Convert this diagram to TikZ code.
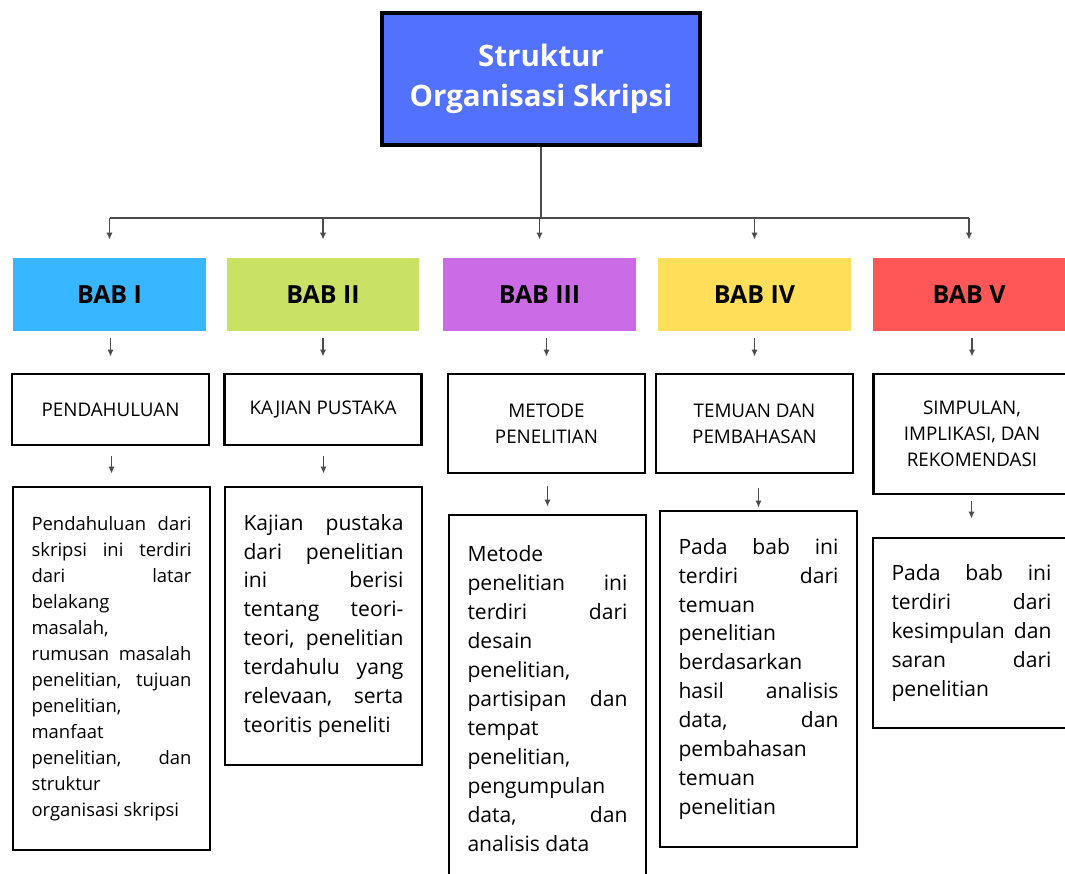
\documentclass[tikz,border=0pt]{standalone}
\usepackage{fontspec}
\setmainfont{Open Sans}
\usetikzlibrary{arrows.meta}
\definecolor{judulbiru}{HTML}{5271FF}
\definecolor{warnaI}{HTML}{38B6FF}
\definecolor{warnaII}{HTML}{C9E265}
\definecolor{warnaIII}{HTML}{CB6CE6}
\definecolor{warnaIV}{HTML}{FFDE59}
\definecolor{warnaV}{HTML}{FF5757}
\tolerance=10000
\hbadness=10000
\hyphenpenalty=10000
\tikzset{
	judul/.style={draw=black, line width=2.2pt, fill=judulbiru, text=white, minimum width=6.36cm, minimum height=2.64cm, align=center, font=\bfseries\fontsize{16.8}{23}\selectfont},
	bab/.style={minimum width=3.86cm, minimum height=1.46cm, inner sep=0pt, font=\bfseries\fontsize{14.2}{16}\selectfont},
	judulbab/.style={draw=black, line width=1.6pt, fill=white, minimum width=3.94cm, align=center, font=\fontsize{10.7}{14.7}\selectfont},
	isi/.style={draw=black, line width=1.6pt, fill=white, minimum width=3.94cm, text width=3.2cm, inner sep=0pt, align=justify, font=\fontsize{12}{16.5}\selectfont},
	garis/.style={draw=black!70, line width=0.8pt},
	panah/.style={garis, -{Latex[length=4pt,width=3.6pt]}}
}
\begin{document}
\begin{tikzpicture}[x=0.02cm, y=-0.02cm]
	\useasboundingbox (0,0) rectangle (1065,874);

	\node[judul] (judul) at (541,79) {Struktur\\Organisasi Skripsi};
	\coordinate (hub) at (541,218);

	\node[bab, fill=warnaI] (bab1) at (109.5,294.5) {BAB I};
	\node[bab, fill=warnaII] (bab2) at (323,294.5) {BAB II};
	\node[bab, fill=warnaIII] (bab3) at (539.5,294.5) {BAB III};
	\node[bab, fill=warnaIV] (bab4) at (754.5,294.5) {BAB IV};
	\node[bab, fill=warnaV] (bab5) at (969,294.5) {BAB V};

	\node[judulbab, minimum height=1.42cm] (pend) at (110.5,409.5) {PENDAHULUAN};
	\node[judulbab, minimum height=1.42cm] (kajian) at (323,409.5) {KAJIAN PUSTAKA};
	\node[judulbab, minimum height=1.98cm] (metode) at (546.5,423.5) {METODE\\PENELITIAN};
	\node[judulbab, minimum height=1.98cm] (temuan) at (754.5,423.5) {TEMUAN DAN\\PEMBAHASAN};
	\node[judulbab, minimum height=2.4cm] (simpulan) at (972,434) {SIMPULAN,\\IMPLIKASI, DAN\\REKOMENDASI};

	% isi tiap bab
	\node[isi, minimum height=7.26cm, font=\fontsize{10.5}{14.8}\selectfont] (isi1) at (111.5,668.5) {Pendahuluan dari\linebreak skripsi ini terdiri\linebreak dari latar\linebreak belakang\linebreak masalah,\linebreak rumusan masalah\linebreak penelitian, tujuan\linebreak penelitian,\linebreak manfaat\linebreak penelitian, dan\linebreak struktur\linebreak organisasi skripsi};
	\node[isi, minimum height=5.56cm] (isi2) at (323.5,626) {Kajian pustaka\linebreak dari penelitian\linebreak ini berisi\linebreak tentang teori-\linebreak teori, penelitian\linebreak terdahulu yang\linebreak relevaan, serta\linebreak teoritis peneliti};
	\node[isi, minimum height=7.36cm] (isi3) at (547.5,699) {Metode\linebreak penelitian ini\linebreak terdiri dari\linebreak desain\linebreak penelitian,\linebreak partisipan dan\linebreak tempat\linebreak penelitian,\linebreak pengumpulan\linebreak data, dan\linebreak analisis data};
	\node[isi, minimum height=6.72cm] (isi4) at (758.5,679) {Pada bab ini\linebreak terdiri dari\linebreak temuan\linebreak penelitian\linebreak berdasarkan\linebreak hasil analisis\linebreak data, dan\linebreak pembahasan\linebreak temuan\linebreak penelitian};
	\node[isi, minimum height=3.8cm] (isi5) at (971.5,633) {Pada bab ini\linebreak terdiri dari\linebreak kesimpulan dan\linebreak saran dari\linebreak penelitian};

	\draw[garis] (judul.south) -- (hub);
	\draw[garis] (bab1 |- hub) -- (bab5 |- hub);
	\foreach \b in {bab1,bab2,bab3,bab4,bab5}
		\draw[panah, shorten >=0.36cm] (\b |- hub) -- (\b.north);

	\draw[panah, shorten <=0.14cm, shorten >=0.32cm] (pend.north |- bab1.south) -- (pend.north);
	\draw[panah, shorten <=0.14cm, shorten >=0.32cm] (kajian.north |- bab2.south) -- (kajian.north);
	\draw[panah, shorten <=0.14cm, shorten >=0.32cm] (metode.north |- bab3.south) -- (metode.north);
	\draw[panah, shorten <=0.14cm, shorten >=0.32cm] (temuan.north |- bab4.south) -- (temuan.north);
	\draw[panah, shorten <=0.14cm, shorten >=0.32cm] (simpulan.north |- bab5.south) -- (simpulan.north);

	\draw[panah, shorten <=0.2cm, shorten >=0.24cm] (isi1.north |- pend.south) -- (isi1.north);
	\draw[panah, shorten <=0.2cm, shorten >=0.24cm] (isi2.north |- kajian.south) -- (isi2.north);
	\draw[panah, shorten <=0.24cm, shorten >=0.14cm] (isi3.north |- metode.south) -- (isi3.north);
	\draw[panah, shorten <=0.28cm, shorten >=0.04cm] (isi4.north |- temuan.south) -- (isi4.north);
	\draw[panah, shorten <=0.12cm, shorten >=0.36cm] (isi5.north |- simpulan.south) -- (isi5.north);

\end{tikzpicture}
\end{document}
